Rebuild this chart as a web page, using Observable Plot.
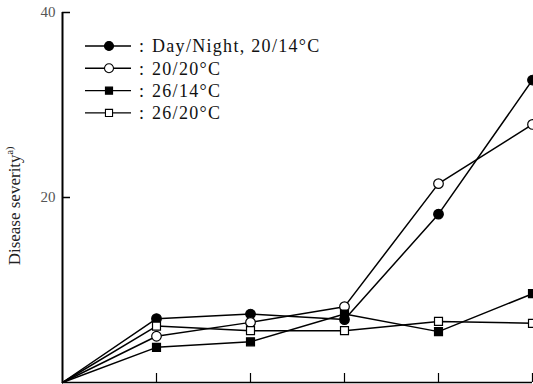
<!DOCTYPE html>
<html>
<head>
<meta charset="utf-8">
<script src="https://cdn.jsdelivr.net/npm/d3@7"></script>
<script src="https://cdn.jsdelivr.net/npm/@observablehq/plot@0.6"></script>
<style>
  html, body { margin: 0; padding: 0; background: #fff; }
  #chart { position: relative; width: 533px; height: 384px; }
  svg { overflow: visible; }
</style>
</head>
<body>
<div id="chart"></div>
<script>
// ---- data ----
const xSteps = [0, 1, 2, 3, 4, 5];
const dayNight2014 = [0, 6.9, 7.4, 6.8, 18.2, 32.7];   // filled circle
const temp2020     = [0, 5.0, 6.5, 8.2, 21.5, 27.9];   // open circle
const temp2614     = [0, 3.8, 4.4, 7.4, 5.5, 9.6];     // filled square
const temp2620     = [0, 6.1, 5.6, 5.6, 6.6, 6.4];     // open square
const seriesNames  = ["Day/Night, 20/14°C", "20/20°C", "26/14°C", "26/20°C"];
const yTicks = [20, 40];
const xTicks = [1, 2, 3, 4, 5];
const yLabel = "Disease severity";
const yLabelSup = "a)";

const seriesValues = [dayNight2014, temp2020, temp2614, temp2620];
const symbols = ["circle", "circle", "square", "square"];
const filled = [true, false, true, false];

const rows = [];
seriesValues.forEach((vals, s) => {
  vals.forEach((v, i) => rows.push({series: seriesNames[s], s, x: xSteps[i], y: v}));
});
const markerRows = rows.filter(d => d.x > 0);

const W = 533, H = 384, mL = 62, mR = 1, mT = 12, mB = 2;
const frameW = W - mL - mR, frameH = H - mT - mB;
const serif = "'Liberation Serif', 'DejaVu Serif', serif";

const plot = Plot.plot({
  width: W, height: H,
  marginLeft: mL, marginRight: mR, marginTop: mT, marginBottom: mB,
  x: {domain: [0, 5], axis: null},
  y: {domain: [0, 40], axis: null},
  style: {background: "#fff", fontFamily: serif, overflow: "visible"},
  marks: [
    // axes
    Plot.ruleX([0], {y1: 0, y2: 40, stroke: "#000", strokeWidth: 2}),
    Plot.ruleY([0], {x1: 0, x2: 5, stroke: "#000", strokeWidth: 1.5}),
    Plot.tickY(yTicks, {y: d => d, insetRight: frameW - 8, stroke: "#000", strokeWidth: 1.5}),
    Plot.tickX(xTicks, {x: d => d, insetTop: frameH - 9, stroke: "#000", strokeWidth: 1.2}),
    Plot.text(yTicks, {x: 0, y: d => d, text: d => String(d), dx: -7, textAnchor: "end",
      fontSize: 15, fill: "#555", fontFamily: serif}),
    // lines
    Plot.line(rows, {x: "x", y: "y", z: "series", stroke: "#000", strokeWidth: 1.5}),
    // markers
    ...[0, 1, 2, 3].map(s => Plot.dot(markerRows.filter(d => d.s === s), {
      x: "x", y: "y", symbol: () => symbols[s],
      r: symbols[s] === "circle" ? 4.8 : 4.5,
      fill: filled[s] ? "#000" : "#fff",
      stroke: "#000", strokeWidth: 1.2
    }))
  ]
});

document.getElementById("chart").appendChild(plot);

// ---- legend and y label drawn into the svg ----
const svg = d3.select(plot);
const lg = svg.append("g").attr("text-anchor", "start");
seriesNames.forEach((name, i) => {
  const y = 46 + i * 22.3;
  const g = lg.append("g").attr("transform", `translate(0,${y})`);
  g.append("line").attr("x1", 85).attr("x2", 131).attr("y1", 0).attr("y2", 0)
    .attr("stroke", "#000").attr("stroke-width", 1.4);
  const sym = d3.symbol().type(symbols[i] === "circle" ? d3.symbolCircle : d3.symbolSquare)
    .size(symbols[i] === "circle" ? Math.PI * 4.5 * 4.5 : Math.PI * 4 * 4)();
  g.append("path").attr("d", sym).attr("transform", "translate(109,0)")
    .attr("fill", filled[i] ? "#000" : "#fff").attr("stroke", "#000").attr("stroke-width", 1.1);
  g.append("text").attr("x", 139).attr("y", 0).attr("dy", "0.35em")
    .attr("text-anchor", "start")
    .attr("font-family", serif).attr("font-size", 18).attr("fill", "#111")
    .text(":");
  g.append("text").attr("x", 152).attr("y", 0).attr("dy", "0.35em")
    .attr("text-anchor", "start")
    .attr("font-family", serif).attr("font-size", 18).attr("letter-spacing", "1.3px")
    .attr("fill", "#111")
    .text(name);
});

const yl = svg.append("text")
  .attr("transform", "translate(20,206) rotate(-90)")
  .attr("text-anchor", "middle")
  .attr("font-family", serif).attr("font-size", 17).attr("fill", "#222");
yl.append("tspan").text(yLabel);
yl.append("tspan").attr("font-size", 10).attr("dy", -7).text(yLabelSup);
</script>
</body>
</html>
